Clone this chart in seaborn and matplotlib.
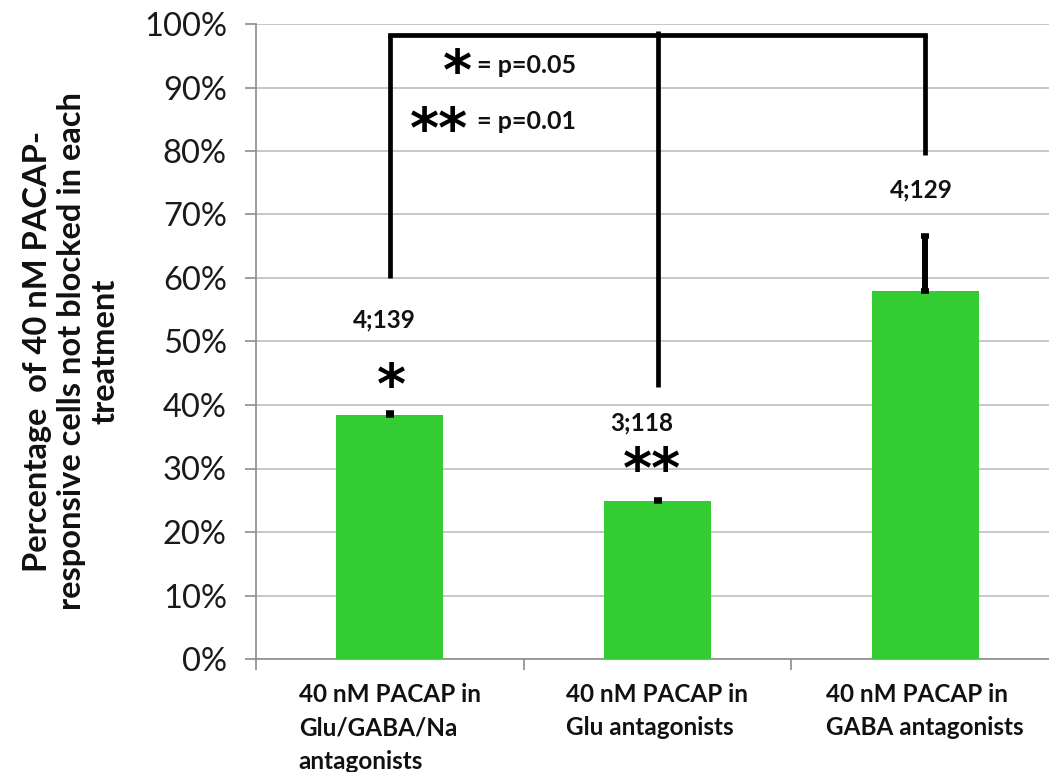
import matplotlib
matplotlib.use("Agg")
import matplotlib.pyplot as plt
import matplotlib.ticker as mticker
import seaborn as sns
import pandas as pd

# ---- data ----
categories = ["40 nM PACAP in\nGlu/GABA/Na\nantagonists",
              "40 nM PACAP in\nGlu antagonists",
              "40 nM PACAP in\nGABA antagonists"]
values = [0.385, 0.249, 0.579]
errors_up = [0.002, 0.002, 0.087]
n_labels = ["4;139", "3;118", "4;129"]
sig_marks = ["*", "**", ""]
# bracket: top level and lower end of each vertical leg
bracket_top = 0.983
bracket_legs = [0.60, 0.428, 0.794]
legend_items = [("*", "= p=0.05"), ("**", "= p=0.01")]
ylabel = "Percentage  of 40 nM PACAP-\nresponsive cells not blocked in each\ntreatment"

df = pd.DataFrame({"cat": categories, "val": values})

sns.set_theme(style="white")
FONT = ["Lato", "DejaVu Sans"]
plt.rcParams["font.family"] = FONT

W, H = 1049, 772
fig = plt.figure(figsize=(W / 100, H / 100), dpi=100)
ax = fig.add_axes([256 / W, (H - 659) / H, (1059 - 256) / W, (659 - 24) / H])

GREEN = "#33CC33"
sns.barplot(data=df, x="cat", y="val", color=GREEN, width=0.4, saturation=1,
            ax=ax, zorder=3, edgecolor="none")
xs = list(range(len(categories)))
ax.errorbar(xs, values, yerr=[[0] * len(values), errors_up], fmt="none",
            ecolor="black", elinewidth=4.3, capsize=3.2, capthick=4.0, zorder=4)

ax.set_xlim(-0.5, len(categories) - 0.5)
ax.set_ylim(0, 1)
ax.yaxis.set_major_locator(mticker.MultipleLocator(0.1))
ax.yaxis.set_major_formatter(mticker.FuncFormatter(lambda v, p: f"{v*100:.0f}%"))
ax.grid(axis="y", color="#BEBEBE", linewidth=1.2, zorder=0)
ax.set_axisbelow(True)

for s in ["top", "right"]:
    ax.spines[s].set_visible(False)
for s in ["left", "bottom"]:
    ax.spines[s].set_color("#8C8C8C")
    ax.spines[s].set_linewidth(1.2)

ax.tick_params(axis="y", which="major", length=8, width=1.2, color="#8C8C8C",
               labelsize=23.5, pad=13, left=True)
ax.tick_params(axis="x", which="major", length=0, labelsize=17.5, pad=17)
ax.set_xticks(xs)
ax.set_xticklabels(categories, fontweight="bold", multialignment="left",
                   linespacing=1.55)
ax.xaxis.set_minor_locator(mticker.FixedLocator([x - 0.5 for x in xs]))
ax.tick_params(axis="x", which="minor", length=8, width=1.2, color="#8C8C8C",
               bottom=True)
for t in ax.get_yticklabels():
    t.set_color("#1A1A1A")
for t in ax.get_xticklabels():
    t.set_color("#111111")

ax.set_xlabel("")
ax.set_ylabel(ylabel, fontsize=23.5, fontweight="bold", linespacing=1.2,
              color="#111111")
ax.yaxis.set_label_coords(-0.17, 0.485)

# n labels and significance asterisks
n_offsets = [(-0.02, 0.534), (-0.06, 0.372), (-0.015, 0.739)]
for i, (lab, (dx, yy)) in enumerate(zip(n_labels, n_offsets)):
    ax.text(i + dx, yy, lab, ha="center", va="center", fontsize=17.5,
            fontweight="bold", color="#111111", zorder=6)
sig_pos = [(0.005, 0.427), (-0.02, 0.295), (0, 0)]
for i, (m, (dx, yy)) in enumerate(zip(sig_marks, sig_pos)):
    if m:
        ax.text(i + dx, yy, m, ha="center", va="center", fontsize=40,
                fontweight="bold", family=["DejaVu Sans"], color="black",
                zorder=6)

# bracket
lw = 3.4
ax.plot([xs[0], xs[0]], [bracket_legs[0], bracket_top], color="black", lw=lw,
        solid_capstyle="butt", zorder=5)
ax.plot([xs[0], xs[2]], [bracket_top, bracket_top], color="black", lw=lw,
        solid_capstyle="projecting", zorder=5)
ax.plot([xs[1], xs[1]], [bracket_legs[1], bracket_top + 0.006], color="black",
        lw=lw, solid_capstyle="butt", zorder=5)
ax.plot([xs[2], xs[2]], [bracket_legs[2], bracket_top], color="black", lw=lw,
        solid_capstyle="butt", zorder=5)

# significance legend
leg_star_y = [0.922, 0.830]
leg_txt_y = [0.934, 0.846]
leg_star_x = [0.254, 0.183]
for (star, txt), sy, ty, sx in zip(legend_items, leg_star_y, leg_txt_y, leg_star_x):
    ax.text(sx, sy, star, ha="center", va="center", fontsize=40,
            fontweight="bold", family=["DejaVu Sans"], color="black", zorder=6)
    ax.text(0.325, ty, txt, ha="left", va="center", fontsize=18,
            fontweight="bold", color="#111111", zorder=6)

fig.savefig("out.png", dpi=100)
